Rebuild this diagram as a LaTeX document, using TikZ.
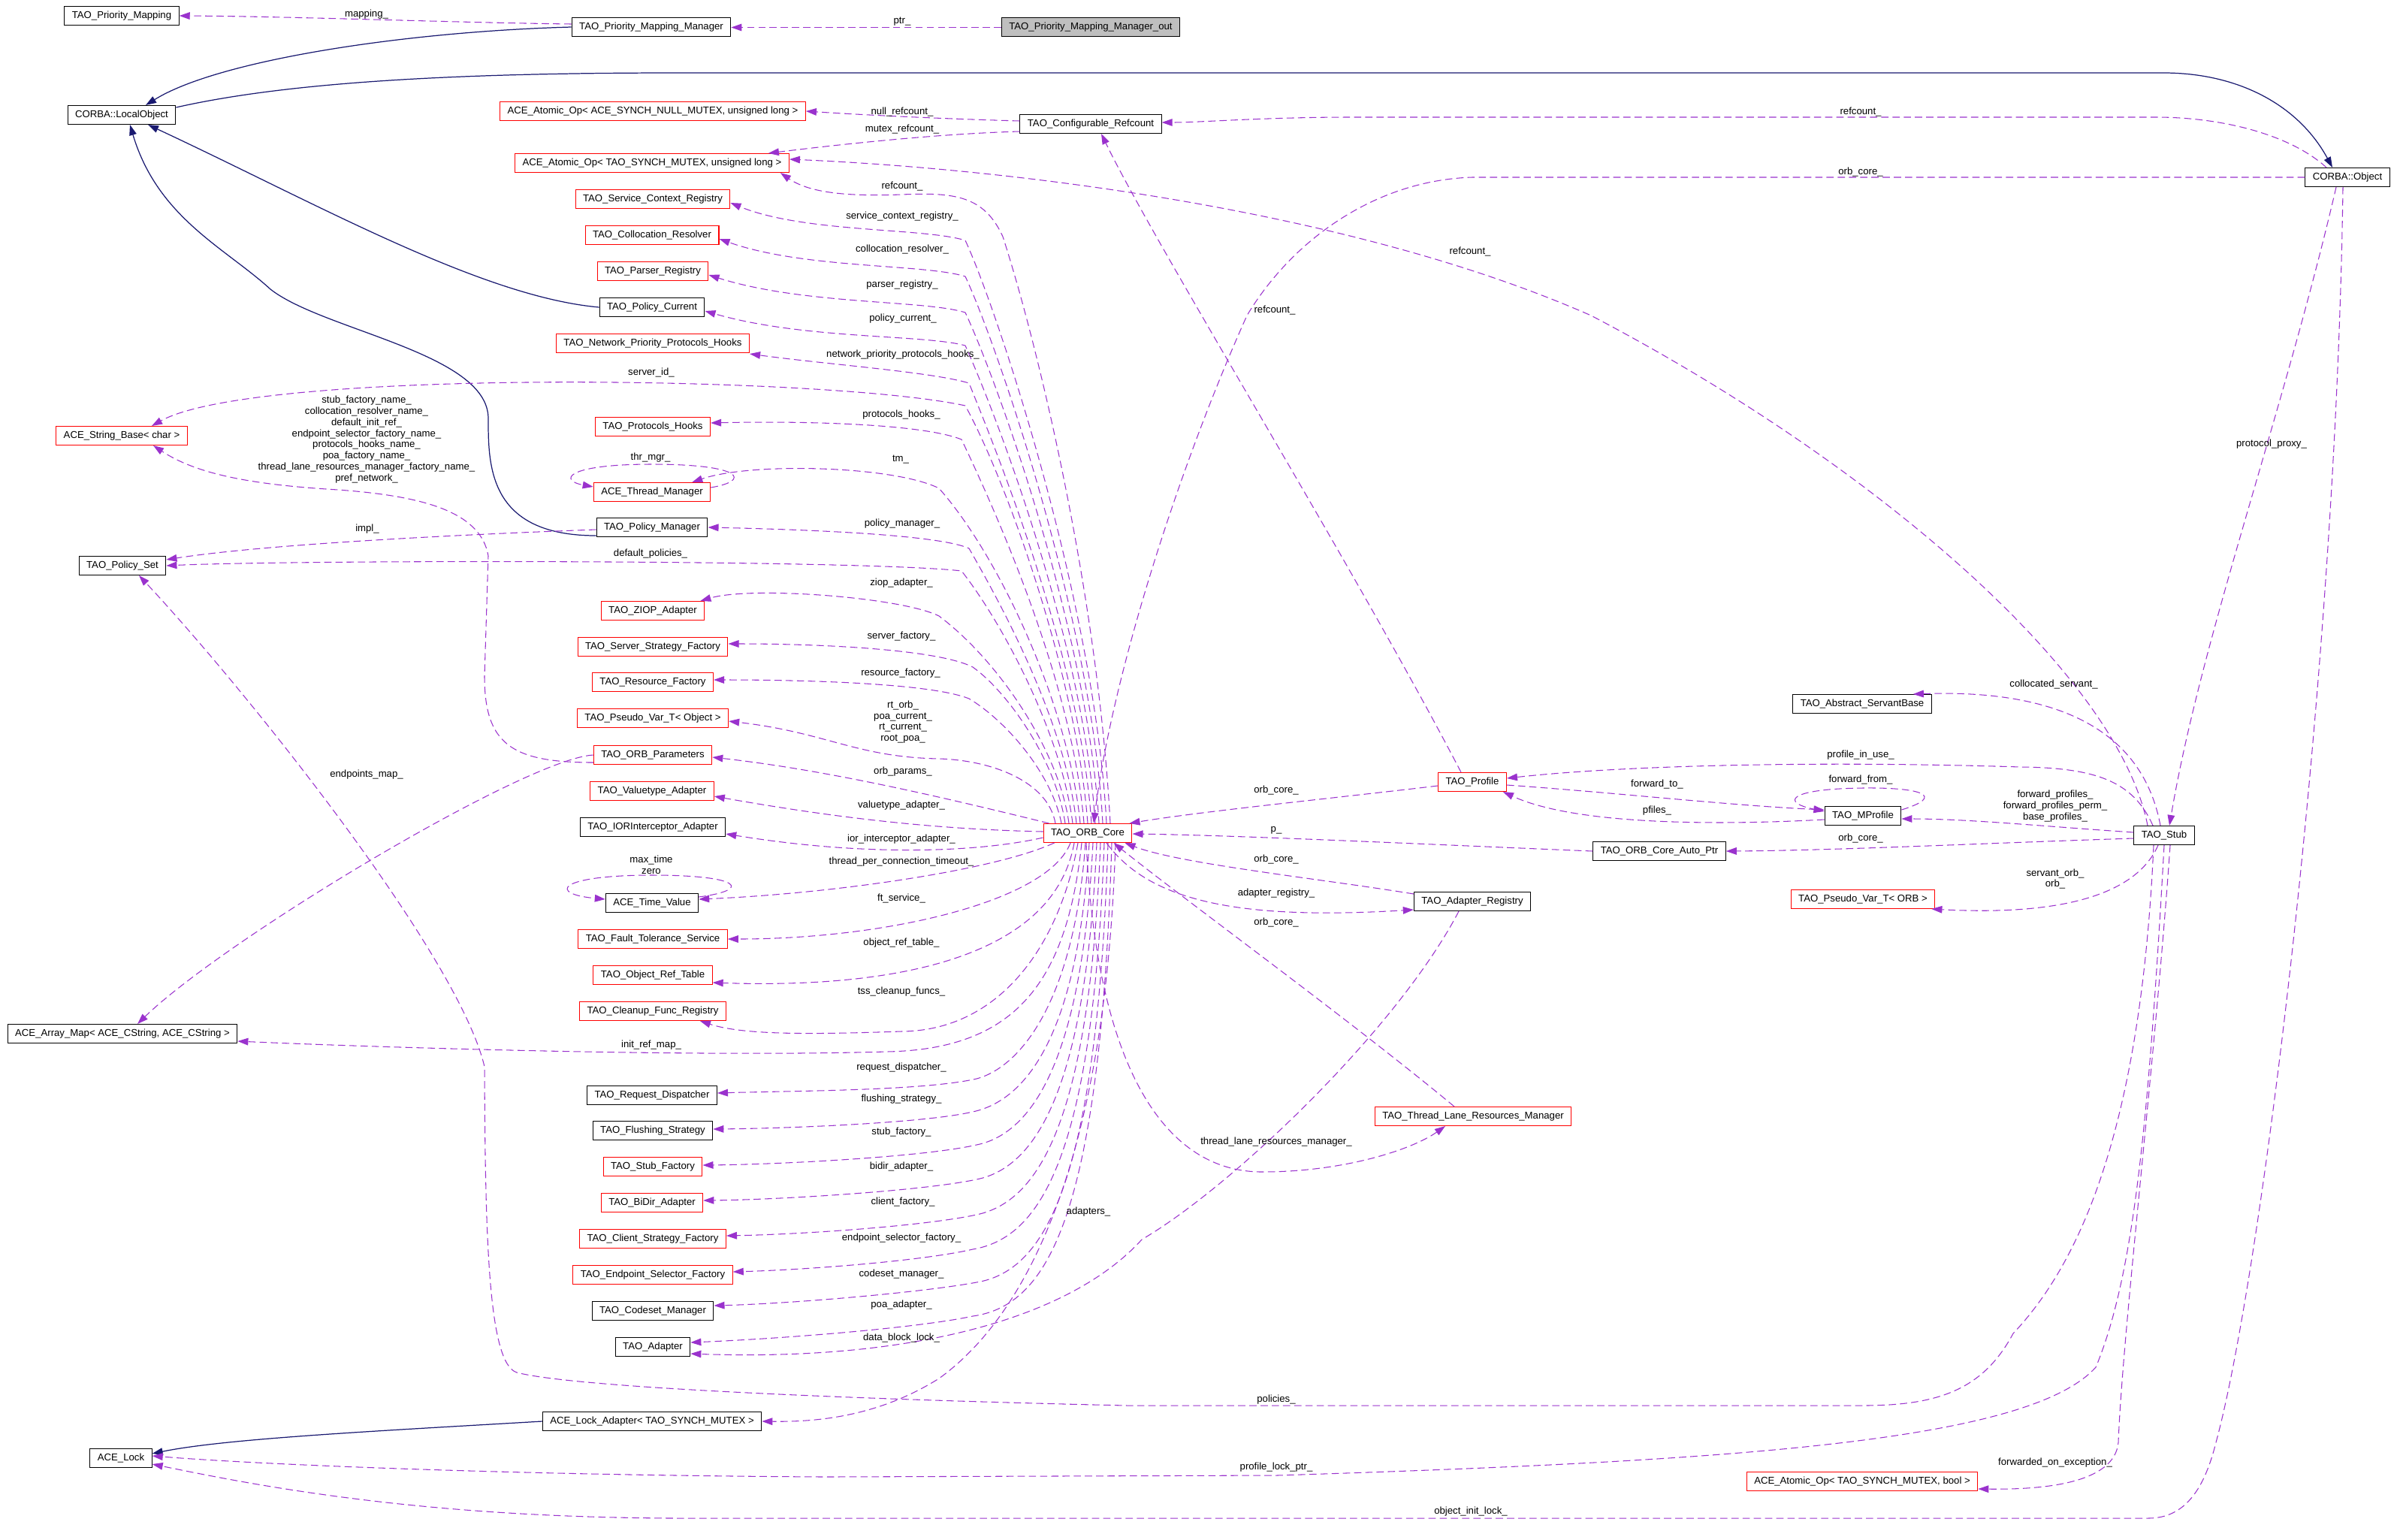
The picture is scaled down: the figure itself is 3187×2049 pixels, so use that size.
\documentclass[tikz,border=0pt]{standalone}
\usepackage{fontspec}
\setmainfont{Liberation Sans}
\usepackage{tikz}
\usetikzlibrary{arrows.meta, calc}
\definecolor{mynavy}{RGB}{25,25,112}
\definecolor{mypurple}{RGB}{154,50,205}
\definecolor{myred}{RGB}{255,0,0}
\definecolor{mygray}{RGB}{191,191,191}
\tikzset{
  classbox/.style={rectangle, draw=black, fill=white, minimum height=0.5cm,
    inner xsep=0.2cm, inner ysep=0pt, font=\fontsize{7.5}{8.6}\selectfont, line width=0.6pt},
  redbox/.style={classbox, draw=myred},
  graybox/.style={classbox, fill=mygray},
  lbl/.style={font=\fontsize{7.5}{8.4}\selectfont, align=center, inner sep=0pt},
  inherit/.style={-{Triangle[length=8pt, width=5.5pt]}, color=mynavy, line width=0.7pt},
  member/.style={-{Triangle[length=8pt, width=5.5pt]}, color=mypurple,
    dash pattern=on 5.5pt off 3pt, line width=0.6pt}
}

\begin{document}
\begin{tikzpicture}[x=0.02cm, y=-0.02cm]
  \useasboundingbox (0,0) rectangle (3187,2049);

  % top row
  \node[classbox] (PM) at (162,21) {TAO\_Priority\_Mapping};
  \node[classbox] (PMM) at (867,36) {TAO\_Priority\_Mapping\_Manager};
  \node[graybox] (PMMout) at (1452,36) {TAO\_Priority\_Mapping\_Manager\_out};
  \node[classbox] (LO) at (162,153) {CORBA::LocalObject};
  \node[classbox] (CR) at (1452,165) {TAO\_Configurable\_Refcount};
  \node[classbox] (Obj) at (3125,236) {CORBA::Object};

  % left side
  \node[redbox] (SB) at (162,580) {ACE\_String\_Base< char >};
  \node[classbox] (PS) at (163,753) {TAO\_Policy\_Set};
  \node[classbox] (AM) at (163,1376) {ACE\_Array\_Map< ACE\_CString, ACE\_CString >};
  \node[classbox] (Lock) at (161,1941) {ACE\_Lock};

  % middle column
  \node[redbox] (AONull) at (869,148) {ACE\_Atomic\_Op< ACE\_SYNCH\_NULL\_MUTEX, unsigned long >};
  \node[redbox] (AOul) at (868,217) {ACE\_Atomic\_Op< TAO\_SYNCH\_MUTEX, unsigned long >};
  \node[redbox] (SCR) at (869,265) {TAO\_Service\_Context\_Registry};
  \node[redbox] (CoR) at (868,313) {TAO\_Collocation\_Resolver};
  \node[redbox] (PaR) at (869,361) {TAO\_Parser\_Registry};
  \node[classbox] (PC) at (868,409) {TAO\_Policy\_Current};
  \node[redbox] (NPPH) at (869,457) {TAO\_Network\_Priority\_Protocols\_Hooks};
  \node[redbox] (PH) at (869,568) {TAO\_Protocols\_Hooks};
  \node[redbox] (TM) at (868,655) {ACE\_Thread\_Manager};
  \node[classbox] (PMgr) at (868,702) {TAO\_Policy\_Manager};
  \node[redbox] (ZIOP) at (869,813) {TAO\_ZIOP\_Adapter};
  \node[redbox] (SSF) at (869,861) {TAO\_Server\_Strategy\_Factory};
  \node[redbox] (RF) at (869,908) {TAO\_Resource\_Factory};
  \node[redbox] (PVO) at (869,956) {TAO\_Pseudo\_Var\_T< Object >};
  \node[redbox] (OP) at (869,1005) {TAO\_ORB\_Parameters};
  \node[redbox] (VA) at (868,1053) {TAO\_Valuetype\_Adapter};
  \node[classbox] (IOR) at (869,1101) {TAO\_IORInterceptor\_Adapter};
  \node[classbox] (TV) at (868,1202) {ACE\_Time\_Value};
  \node[redbox] (FTS) at (869,1250) {TAO\_Fault\_Tolerance\_Service};
  \node[redbox] (ORT) at (869,1298) {TAO\_Object\_Ref\_Table};
  \node[redbox] (CFR) at (869,1346) {TAO\_Cleanup\_Func\_Registry};
  \node[classbox] (RD) at (868,1458) {TAO\_Request\_Dispatcher};
  \node[classbox] (FS) at (869,1505) {TAO\_Flushing\_Strategy};
  \node[redbox] (SF) at (869,1553) {TAO\_Stub\_Factory};
  \node[redbox] (BiDir) at (868,1601) {TAO\_BiDir\_Adapter};
  \node[redbox] (CSF) at (869,1649) {TAO\_Client\_Strategy\_Factory};
  \node[redbox] (ESF) at (869,1697) {TAO\_Endpoint\_Selector\_Factory};
  \node[classbox] (CM) at (869,1745) {TAO\_Codeset\_Manager};
  \node[classbox] (Ad) at (869,1793) {TAO\_Adapter};
  \node[classbox] (LA) at (868,1892) {ACE\_Lock\_Adapter< TAO\_SYNCH\_MUTEX >};

  % core and right side
  \node[redbox] (Core) at (1448,1109) {TAO\_ORB\_Core};
  \node[redbox] (Prof) at (1960,1041) {TAO\_Profile};
  \node[classbox] (MP) at (2480,1086) {TAO\_MProfile};
  \node[classbox] (AP) at (2209,1133) {TAO\_ORB\_Core\_Auto\_Ptr};
  \node[classbox] (Stub) at (2881,1112) {TAO\_Stub};
  \node[classbox] (AR) at (1960,1200) {TAO\_Adapter\_Registry};
  \node[redbox] (PVORB) at (2480,1197) {TAO\_Pseudo\_Var\_T< ORB >};
  \node[redbox] (TLRM) at (1961,1486) {TAO\_Thread\_Lane\_Resources\_Manager};
  \node[classbox] (ASB) at (2479,937) {TAO\_Abstract\_ServantBase};
  \node[redbox] (AOb) at (2479,1972) {ACE\_Atomic\_Op< TAO\_SYNCH\_MUTEX, bool >};

  % inheritance
  \draw[inherit] (PMM.west) .. controls (540,42) and (290,80) .. ($(LO.north)+(32,0)$);
  \draw[inherit] ($(LO.east)+(0,-10)$) .. controls (380,110) and (600,97) .. (900,97) -- (2880,97)
    .. controls (2980,97) and (3060,140) .. ($(Obj.north)+(-20,0)$);
  \draw[inherit] (PC.west) .. controls (640,395) and (420,270) .. ($(LO.south)+(35,0)$);
  \draw[inherit] ($(PMgr.west)+(0,11)$) .. controls (650,713) and (650,620) .. (650,557)
    .. controls (650,470) and (430,440) .. (360,385) .. controls (300,330) and (210,290) .. ($(LO.south)+(11,0)$);
  \draw[inherit] (LA.west) .. controls (500,1905) and (300,1915) .. ($(Lock.east)+(0,-6)$);

  % top members
  \draw[member] ($(PMM.west)+(0,-4)$) .. controls (600,30) and (400,22) .. (PM.east);
  \draw[member] ($(PMMout.west)+(0,0.5)$) -- ($(PMM.east)+(0,0.5)$);
  \draw[member] ($(CR.west)+(0,-4)$) .. controls (1250,158) and (1150,153) .. (AONull.east);
  \draw[member] ($(CR.west)+(0,10)$) .. controls (1250,178) and (1120,192) .. ($(AOul.north east)+(-28,0)$);
  \draw[member] ($(Obj.north)+(-28,0)$) .. controls (3050,180) and (2960,156) .. (2870,156) -- (1800,156)
    .. controls (1680,156) and (1600,163) .. ($(CR.east)+(0,-2)$);
  \draw[member] (Obj.west) -- (1960,236) .. controls (1830,240) and (1720,320) .. (1660,420)
    .. controls (1570,620) and (1480,900) .. ($(Core.north)+(8,0)$);
  \draw[member] ($(Stub.north)+(-22,0)$) .. controls (2820,900) and (2500,620) .. (2118,420)
    .. controls (1800,280) and (1350,225) .. ($(AOul.east)+(0,-5)$);
  \draw[member] ($(Prof.north)+(-15,0)$) .. controls (1800,750) and (1540,330) .. ($(CR.south)+(14,0)$);

  % ORB core, upwards
  \draw[member] ($(Core.north)+(30,0)$) .. controls (1462,800) and (1385,470) .. (1335,315)
    .. controls (1310,260) and (1270,256) .. (1200,259) .. controls (1120,262) and (1075,255) .. ($(AOul.south east)+(-12,0)$);
  \draw[member] ($(Core.north)+(25,0)$) .. controls (1458,804) and (1325,405) .. (1285,320)
    .. controls (1230,303) and (1070,310) .. ($(SCR.east)+(0,5)$);
  \draw[member] ($(Core.north)+(20,0)$) .. controls (1453,822) and (1325,453) .. (1285,368)
    .. controls (1230,351) and (1070,358) .. ($(CoR.east)+(0,5)$);
  \draw[member] ($(Core.north)+(15,0)$) .. controls (1448,839) and (1325,501) .. (1285,416)
    .. controls (1230,399) and (1070,406) .. ($(PaR.east)+(0,5)$);
  \draw[member] ($(Core.north)+(10,0)$) .. controls (1443,856) and (1325,549) .. (1285,460)
    .. controls (1230,445) and (1070,452) .. ($(PC.east)+(0,5)$);
  \draw[member] ($(Core.north)+(5,0)$) .. controls (1438,873) and (1325,597) .. (1290,510)
    .. controls (1240,495) and (1100,485) .. ($(NPPH.south east)+(0,1)$);
  \draw[member] ($(Core.north)+(0,0)$) .. controls (1433,900) and (1340,640) .. (1285,540)
    .. controls (1100,500) and (340,490) .. ($(SB.north)+(40,0)$);
  \draw[member] ($(Core.north)+(-5,0)$) .. controls (1428,912) and (1330,690) .. (1280,585)
    .. controls (1230,565) and (1080,560) .. ($(PH.east)+(0,-5)$);
  \draw[member] ($(Core.north)+(-10,0)$) .. controls (1423,940) and (1330,740) .. (1250,650)
    .. controls (1190,620) and (1000,615) .. ($(TM.north east)+(-25,0)$);
  \draw[member] ($(Core.north)+(-15,0)$) .. controls (1418,958) and (1330,800) .. (1290,730)
    .. controls (1250,712) and (1080,705) .. (PMgr.east);
  \draw[member] ($(Core.north)+(-20,0)$) .. controls (1413,977) and (1335,830) .. (1280,760)
    .. controls (1150,745) and (400,745) .. (PS.east);
  \draw[member] ($(Core.north)+(-25,0)$) .. controls (1410,1000) and (1330,880) .. (1250,820)
    .. controls (1200,795) and (1000,780) .. ($(ZIOP.north east)+(-6,0)$);
  \draw[member] ($(Core.north)+(-30,0)$) .. controls (1405,1010) and (1340,920) .. (1295,888)
    .. controls (1250,865) and (1100,857) .. ($(SSF.east)+(0,-4)$);
  \draw[member] ($(Core.north)+(-35,0)$) .. controls (1400,1030) and (1340,960) .. (1290,930)
    .. controls (1240,910) and (1080,905) .. ($(RF.east)+(0,-3)$);
  \draw[member] ($(Core.north)+(-43,0)$) .. controls (1395,1040) and (1320,1012) .. (1250,1010)
    .. controls (1140,1008) and (1100,975) .. ($(PVO.east)+(0,4)$);
  \draw[member] ($(Core.north west)+(8,0)$) .. controls (1250,1060) and (1100,1025) .. ($(OP.east)+(0,3)$);
  \draw[member] ($(Core.west)+(0,-2)$) .. controls (1250,1104) and (1120,1090) .. ($(VA.east)+(0,7)$);
  \draw[member] ($(Core.west)+(0,6)$) .. controls (1300,1135) and (1150,1140) .. ($(IOR.east)+(0,9)$);

  % ORB core, downwards
  \draw[member] ($(Core.south west)+(15,0)$) .. controls (1320,1160) and (1100,1190) .. ($(TV.east)+(0,-5)$);
  \draw[member] ($(Core.south)+(-23,0)$) .. controls (1395,1200) and (1180,1250) .. (FTS.east);
  \draw[member] ($(Core.south)+(-18,0)$) .. controls (1400,1290) and (1150,1315) .. ($(ORT.east)+(0,10)$);
  \draw[member] ($(Core.south)+(-13,0)$) .. controls (1410,1260) and (1330,1372) .. (1200,1373)
    .. controls (1080,1377) and (990,1378) .. ($(CFR.south east)+(-35,0)$);
  \draw[member] ($(Core.south)+(-8,0)$) .. controls (1420,1310) and (1350,1397) .. (1180,1400)
    .. controls (900,1408) and (450,1392) .. ($(AM.east)+(0,10)$);
  \draw[member] ($(Core.south)+(-3,0)$) .. controls (1430,1330) and (1360,1420) .. (1300,1436)
    .. controls (1230,1452) and (1060,1452) .. ($(RD.east)+(0,-3)$);
  \draw[member] ($(Core.south)+(2,0)$) .. controls (1435,1380) and (1365,1465) .. (1295,1480)
    .. controls (1230,1495) and (1050,1502) .. ($(FS.east)+(0,-2)$);
  \draw[member] ($(Core.south)+(7,0)$) .. controls (1440,1420) and (1370,1510) .. (1300,1524)
    .. controls (1230,1540) and (1040,1550) .. ($(SF.east)+(0,-2)$);
  \draw[member] ($(Core.south)+(12,0)$) .. controls (1445,1460) and (1375,1555) .. (1300,1570)
    .. controls (1230,1585) and (1040,1597) .. ($(BiDir.east)+(0,-3)$);
  \draw[member] ($(Core.south)+(17,0)$) .. controls (1450,1500) and (1380,1600) .. (1300,1617)
    .. controls (1230,1632) and (1070,1643) .. ($(CSF.east)+(0,-4)$);
  \draw[member] ($(Core.south)+(22,0)$) .. controls (1455,1540) and (1385,1648) .. (1295,1663)
    .. controls (1230,1678) and (1080,1690) .. ($(ESF.east)+(0,-4)$);
  \draw[member] ($(Core.south)+(27,0)$) .. controls (1460,1580) and (1390,1692) .. (1300,1707)
    .. controls (1230,1720) and (1060,1735) .. ($(CM.east)+(0,-7)$);
  \draw[member] ($(Core.south)+(32,0)$) .. controls (1465,1620) and (1395,1738) .. (1295,1752)
    .. controls (1220,1768) and (1040,1782) .. ($(Ad.east)+(0,-6)$);
  \draw[member] ($(Core.south)+(37,0)$) .. controls (1470,1600) and (1340,1770) .. (1250,1835)
    .. controls (1170,1885) and (1090,1893) .. (LA.east);

  % self loops and left side members
  \draw[member] ($(TM.east)+(0,-6)$) .. controls (1000,640) and (990,618) .. (868,618)
    .. controls (750,618) and (745,640) .. ($(TM.west)+(0,-7)$);
  \draw[member] ($(TV.east)+(0,-8)$) .. controls (1000,1185) and (990,1165) .. (868,1165)
    .. controls (740,1165) and (730,1190) .. ($(TV.west)+(0,-5)$);
  \draw[member] ($(PMgr.west)+(0,3)$) .. controls (600,712) and (350,725) .. ($(PS.east)+(0,-8)$);
  \draw[member] ($(OP.west)+(0,10)$) .. controls (680,1015) and (645,990) .. (645,900) -- (650,740)
    .. controls (640,680) and (560,660) .. (450,652) .. controls (330,645) and (260,630) .. ($(SB.south)+(42,0)$);
  \draw[member] (OP.west) .. controls (700,1010) and (300,1250) .. ($(AM.north)+(20,0)$);

  % profile, registry and stub
  \draw[member] ($(Prof.west)+(0,5)$) .. controls (1780,1062) and (1600,1080) .. ($(Core.north east)+(-4,0)$);
  \draw[member] (AP.west) .. controls (1900,1124) and (1650,1112) .. ($(Core.east)+(0,1)$);
  \draw[member] ($(AR.north west)+(0,3)$) .. controls (1760,1170) and (1570,1150) .. ($(Core.south east)+(-10,0)$);
  \draw[member] ($(Core.south)+(25,0)$) .. controls (1530,1200) and (1650,1225) .. ($(AR.west)+(0,11)$);
  \draw[member] ($(TLRM.north)+(-25,0)$) .. controls (1800,1360) and (1580,1200) .. ($(Core.south east)+(-25,0)$);
  \draw[member] ($(Core.south)+(-2,0)$) .. controls (1460,1420) and (1550,1560) .. (1680,1560)
    .. controls (1790,1560) and (1880,1530) .. ($(TLRM.south)+(-37,0)$);
  \draw[member] ($(AR.south)+(-18,0)$) .. controls (1860,1370) and (1640,1580) .. (1520,1650)
    .. controls (1420,1760) and (1200,1812) .. ($(Ad.east)+(0,9)$);
  \draw[member] ($(Prof.east)+(0,4)$) .. controls (2150,1055) and (2300,1072) .. ($(MP.west)+(0,-8)$);
  \draw[member] ($(MP.west)+(0,5)$) .. controls (2300,1098) and (2100,1100) .. ($(Prof.south east)+(-5,0)$);
  \draw[member] ($(MP.east)+(0,-8)$) .. controls (2590,1060) and (2560,1048) .. (2480,1049)
    .. controls (2380,1050) and (2370,1068) .. ($(MP.west)+(0,-6)$);
  \draw[member] ($(Stub.north)+(-15,0)$) .. controls (2840,1040) and (2790,1022) .. (2690,1021)
    .. controls (2400,1012) and (2150,1020) .. ($(Prof.east)+(0,-5)$);
  \draw[member] ($(Stub.west)+(0,-4)$) .. controls (2720,1100) and (2620,1090) .. ($(MP.east)+(0,4)$);
  \draw[member] ($(Stub.west)+(0,4)$) .. controls (2650,1122) and (2450,1132) .. (AP.east);
  \draw[member] ($(Stub.south)+(-8,0)$) .. controls (2840,1200) and (2720,1218) .. ($(PVORB.south east)+(-5,0)$);
  \draw[member] ($(Stub.north)+(-5,0)$) .. controls (2850,960) and (2720,918) .. ($(ASB.north east)+(-25,0)$);
  \draw[member] ($(Obj.south)+(-15,0)$) .. controls (3040,550) and (2930,850) .. ($(Stub.north)+(7,0)$);
  \draw[member] ($(Obj.south)+(-6,0)$) .. controls (3110,900) and (3010,1700) .. (2950,1920)
    .. controls (2935,1980) and (2910,2021) .. (2860,2021) -- (900,2021)
    .. controls (550,2020) and (330,1975) .. ($(Lock.east)+(0,8)$);
  \draw[member] ($(Stub.south)+(-14,0)$) .. controls (2850,1500) and (2770,1680) .. (2680,1775)
    .. controls (2640,1850) and (2580,1871) .. (2480,1871) -- (1500,1871)
    .. controls (1100,1862) and (760,1846) .. (688,1827) .. controls (650,1815) and (646,1650) .. (645,1420)
    .. controls (610,1270) and (320,910) .. ($(PS.south)+(22,0)$);
  \draw[member] (Stub.south) .. controls (2860,1500) and (2840,1700) .. (2790,1820)
    .. controls (2700,1920) and (2300,1945) .. (1700,1964) -- (1100,1966)
    .. controls (700,1964) and (350,1950) .. ($(Lock.east)+(0,-3)$);
  \draw[member] ($(Stub.south)+(8,0)$) .. controls (2870,1400) and (2825,1780) .. (2820,1920)
    .. controls (2815,1975) and (2720,1983) .. ($(AOb.east)+(0,10)$);

  % labels
  \node[lbl] (lmapping) at (488,19) {mapping\_};
  \node[lbl] (lptr) at (1201,29) {ptr\_};
  \node[lbl] (lnullref) at (1201,149) {null\_refcount\_};
  \node[lbl] (lmutexref) at (1201,172) {mutex\_refcount\_};
  \node[lbl] (lobjref) at (2477,149) {refcount\_};
  \node[lbl] (lobjcore) at (2477,229) {orb\_core\_};
  \node[lbl] (lcoreref) at (1201,248) {refcount\_};
  \node[lbl] (lstubref) at (1957,335) {refcount\_};
  \node[lbl] (lprofref) at (1697,413) {refcount\_};
  \node[lbl] (lscr) at (1201,288) {service\_context\_registry\_};
  \node[lbl] (lcor) at (1201,332) {collocation\_resolver\_};
  \node[lbl] (lpar) at (1201,379) {parser\_registry\_};
  \node[lbl] (lpc) at (1202,424) {policy\_current\_};
  \node[lbl] (lnpph) at (1202,472) {network\_priority\_protocols\_hooks\_};
  \node[lbl] (lsid) at (867,496) {server\_id\_};
  \node[lbl] (lnames) at (488,585) {stub\_factory\_name\_\\collocation\_resolver\_name\_\\default\_init\_ref\_\\endpoint\_selector\_factory\_name\_\\protocols\_hooks\_name\_\\poa\_factory\_name\_\\thread\_lane\_resources\_manager\_factory\_name\_\\pref\_network\_};
  \node[lbl] (lph) at (1200,552) {protocols\_hooks\_};
  \node[lbl] (lthr) at (866,609) {thr\_mgr\_};
  \node[lbl] (ltm) at (1199,612) {tm\_};
  \node[lbl] (limpl) at (489,704) {impl\_};
  \node[lbl] (lpmgr) at (1201,697) {policy\_manager\_};
  \node[lbl] (ldefpol) at (866,737) {default\_policies\_};
  \node[lbl] (lziop) at (1200,776) {ziop\_adapter\_};
  \node[lbl] (lssf) at (1200,847) {server\_factory\_};
  \node[lbl] (lrf) at (1199,896) {resource\_factory\_};
  \node[lbl] (lpvo) at (1202,961) {rt\_orb\_\\poa\_current\_\\rt\_current\_\\root\_poa\_};
  \node[lbl] (lop) at (1202,1027) {orb\_params\_};
  \node[lbl] (lemap) at (488,1031) {endpoints\_map\_};
  \node[lbl] (lva) at (1200,1072) {valuetype\_adapter\_};
  \node[lbl] (lior) at (1200,1117) {ior\_interceptor\_adapter\_};
  \node[lbl] (ltpct) at (1200,1147) {thread\_per\_connection\_timeout\_};
  \node[lbl] (ltv) at (867,1151) {max\_time\\zero};
  \node[lbl] (lfts) at (1200,1196) {ft\_service\_};
  \node[lbl] (lort) at (1200,1255) {object\_ref\_table\_};
  \node[lbl] (lcfr) at (1200,1320) {tss\_cleanup\_funcs\_};
  \node[lbl] (lirm) at (867,1391) {init\_ref\_map\_};
  \node[lbl] (lrd) at (1200,1421) {request\_dispatcher\_};
  \node[lbl] (lfs) at (1200,1463) {flushing\_strategy\_};
  \node[lbl] (lsf) at (1200,1507) {stub\_factory\_};
  \node[lbl] (lbidir) at (1200,1553) {bidir\_adapter\_};
  \node[lbl] (lcsf) at (1202,1600) {client\_factory\_};
  \node[lbl] (lesf) at (1200,1648) {endpoint\_selector\_factory\_};
  \node[lbl] (lcm) at (1200,1696) {codeset\_manager\_};
  \node[lbl] (lpoa) at (1200,1737) {poa\_adapter\_};
  \node[lbl] (ldbl) at (1200,1781) {data\_block\_lock\_};
  \node[lbl] (lad) at (1449,1613) {adapters\_};
  \node[lbl] (lpol) at (1699,1863) {policies\_};
  \node[lbl] (lplp) at (1699,1953) {profile\_lock\_ptr\_};
  \node[lbl] (loil) at (1958,2012) {object\_init\_lock\_};
  \node[lbl] (lfoe) at (2736,1947) {forwarded\_on\_exception\_};
  \node[lbl] (lpp) at (3024,591) {protocol\_proxy\_};
  \node[lbl] (lcs) at (2734,911) {collocated\_servant\_};
  \node[lbl] (lpiu) at (2477,1005) {profile\_in\_use\_};
  \node[lbl] (lfto) at (2206,1044) {forward\_to\_};
  \node[lbl] (lffrom) at (2477,1038) {forward\_from\_};
  \node[lbl] (lfp) at (2736,1073) {forward\_profiles\_\\forward\_profiles\_perm\_\\base\_profiles\_};
  \node[lbl] (lpf) at (2206,1079) {pfiles\_};
  \node[lbl] (lprofcore) at (1699,1052) {orb\_core\_};
  \node[lbl] (lp) at (1699,1105) {p\_};
  \node[lbl] (lstubcore) at (2477,1116) {orb\_core\_};
  \node[lbl] (larcore) at (1699,1144) {orb\_core\_};
  \node[lbl] (lar) at (1699,1189) {adapter\_registry\_};
  \node[lbl] (lorb) at (2736,1170) {servant\_orb\_\\orb\_};
  \node[lbl] (ltlcore) at (1699,1228) {orb\_core\_};
  \node[lbl] (ltlrm) at (1699,1520) {thread\_lane\_resources\_manager\_};
\end{tikzpicture}
\end{document}
